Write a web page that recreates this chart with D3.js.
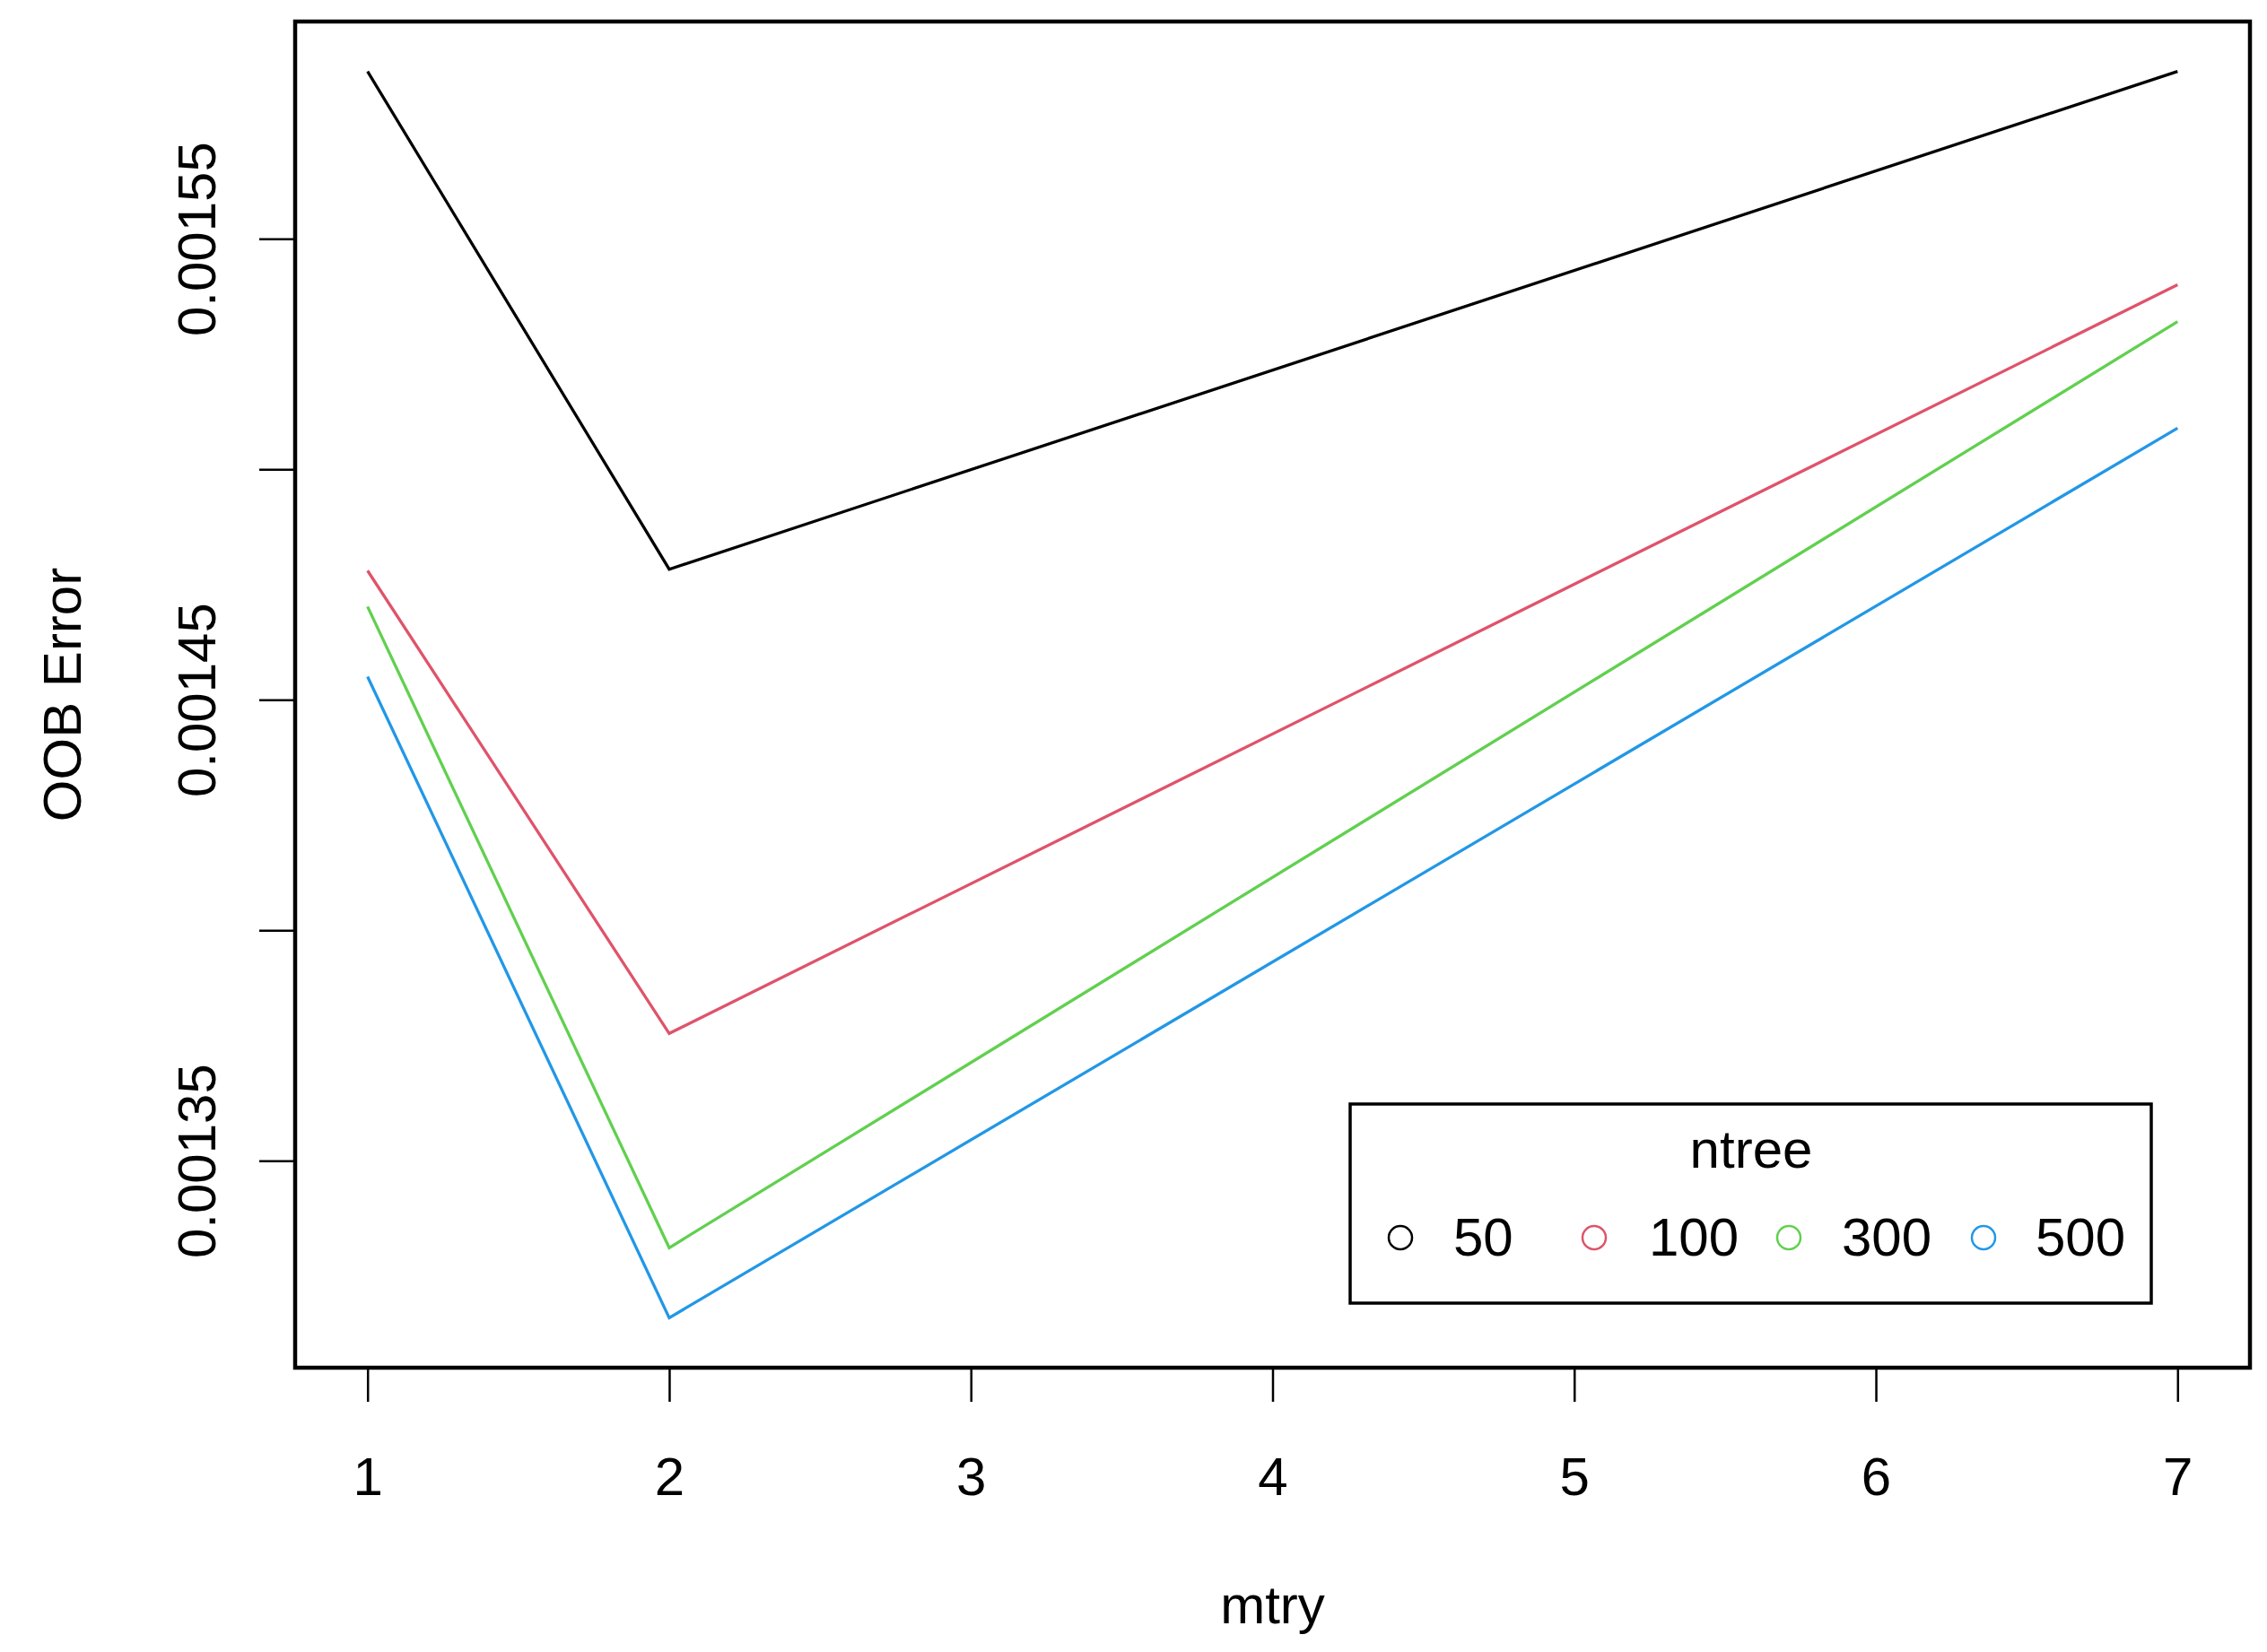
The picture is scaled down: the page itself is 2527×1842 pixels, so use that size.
<!DOCTYPE html>
<html>
<head>
<meta charset="utf-8">
<script src="https://cdn.jsdelivr.net/npm/d3@7"></script>
<style>
  html, body { margin: 0; padding: 0; background: #fff; }
  svg { display: block; }
  text { font-family: "Liberation Sans", Arial, sans-serif; fill: #000; }
</style>
</head>
<body>
<script>
// ---- Data ----
const mtry = [1, 2, 7];
const seriesNames = ["50", "100", "300", "500"];
const seriesColors = ["#000000", "#DF536B", "#61D04F", "#2297E6"];
const oob50  = [0.0015863, 0.0014783, 0.0015863];
const oob100 = [0.0014780, 0.0013776, 0.0015400];
const oob300 = [0.0014702, 0.0013311, 0.0015320];
const oob500 = [0.0014550, 0.0013159, 0.0015089];
const seriesValues = [oob50, oob100, oob300, oob500];
const xTicks = [1, 2, 3, 4, 5, 6, 7];
const yTicks = [0.00135, 0.00140, 0.00145, 0.00150, 0.00155];
const yTickLabels = ["0.00135", "", "0.00145", "", "0.00155"];
const xTitle = "mtry";
const yTitle = "OOB Error";
const legendTitle = "ntree";

// ---- Layout ----
const W = 2527, H = 1842;
const plot = { left: 329, right: 2508, top: 24, bottom: 1525 };
const FS = 60;

const svg = d3.select("body").append("svg")
  .attr("width", W).attr("height", H);

// R-style 4% axis expansion
const xMin = d3.min(mtry), xMax = d3.max(mtry);
const xr = xMax - xMin;
const allY = seriesValues.flat();
const yMin = d3.min(allY), yMax = d3.max(allY);
const yr = yMax - yMin;

const x = d3.scaleLinear().domain([xMin - 0.04 * xr, xMax + 0.04 * xr]).range([plot.left, plot.right]);
const y = d3.scaleLinear().domain([yMin - 0.04 * yr, yMax + 0.04 * yr]).range([plot.bottom, plot.top]);

// ---- Lines ----
const line = d3.line().x((d, i) => x(mtry[i])).y(d => y(d));
svg.append("g").selectAll("path").data(seriesValues).join("path")
  .attr("d", d => line(d))
  .attr("fill", "none")
  .attr("stroke", (d, i) => seriesColors[i])
  .attr("stroke-width", 3.3)
  .attr("stroke-linejoin", "miter");

// ---- Axes ----
const xAxis = d3.axisBottom(x).tickValues(xTicks).tickSize(38).tickPadding(61).tickFormat(d3.format("d"));
const gx = svg.append("g").attr("transform", `translate(0,${plot.bottom})`).call(xAxis);
gx.select(".domain").remove();
gx.selectAll(".tick line").attr("stroke", "#000").attr("stroke-width", 2.5);
gx.selectAll(".tick text").attr("font-size", FS).attr("font-family", "Liberation Sans, Arial, sans-serif").attr("fill", "#000");

const yAxis = d3.axisLeft(y).tickValues(yTicks).tickSize(40).tickFormat((d, i) => yTickLabels[i]);
const gy = svg.append("g").attr("transform", `translate(${plot.left},0)`).call(yAxis);
gy.select(".domain").remove();
gy.selectAll(".tick line").attr("stroke", "#000").attr("stroke-width", 2.5);
gy.selectAll(".tick text")
  .attr("font-size", FS).attr("font-family", "Liberation Sans, Arial, sans-serif").attr("fill", "#000")
  .attr("x", null).attr("dy", null)
  .attr("text-anchor", "middle")
  .attr("transform", `translate(${240 - plot.left},0) rotate(-90)`);

// ---- Frame ----
svg.append("rect")
  .attr("x", plot.left).attr("y", plot.top)
  .attr("width", plot.right - plot.left).attr("height", plot.bottom - plot.top)
  .attr("fill", "none").attr("stroke", "#000").attr("stroke-width", 4.5);

// ---- Titles ----
svg.append("text").attr("x", (plot.left + plot.right) / 2).attr("y", 1810)
  .attr("text-anchor", "middle").attr("font-size", FS).text(xTitle);
svg.append("text").attr("transform", `translate(90,${(plot.top + plot.bottom) / 2}) rotate(-90)`)
  .attr("text-anchor", "middle").attr("font-size", FS).text(yTitle);

// ---- Legend ----
const lg = { left: 1505, top: 1231, right: 2398, bottom: 1453 };
const legend = svg.append("g");
legend.append("rect")
  .attr("x", lg.left).attr("y", lg.top)
  .attr("width", lg.right - lg.left).attr("height", lg.bottom - lg.top)
  .attr("fill", "#fff").attr("stroke", "#000").attr("stroke-width", 3.5);
legend.append("text").attr("x", 1952).attr("y", 1302)
  .attr("text-anchor", "middle").attr("font-size", FS).text(legendTitle);
const symX = [1561, 1777, 1994, 2211];
const labX = [1620, 1838, 2053, 2269];
const items = legend.selectAll("g.item").data(seriesNames).join("g").attr("class", "item");
items.append("circle")
  .attr("cx", (d, i) => symX[i]).attr("cy", 1380).attr("r", 13)
  .attr("fill", "none").attr("stroke", (d, i) => seriesColors[i]).attr("stroke-width", 2.5);
items.append("text")
  .attr("x", (d, i) => labX[i]).attr("y", 1400)
  .attr("font-size", FS).text(d => d);
</script>
</body>
</html>
